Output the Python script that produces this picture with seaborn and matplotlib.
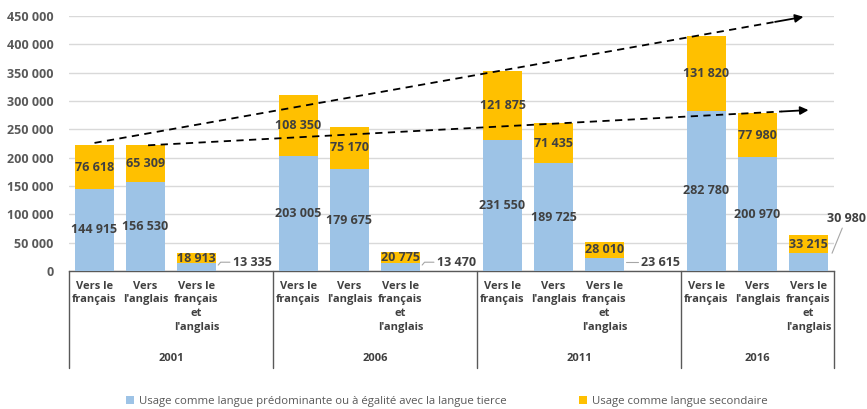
import seaborn as sns
import matplotlib.pyplot as plt
import matplotlib.transforms as mtransforms
import pandas as pd

years = ["2001", "2006", "2011", "2016"]
categories = ["Vers le\nfrançais", "Vers\nl'anglais", "Vers le\nfrançais\net\nl'anglais"]
predominant = [144915, 156530, 13335, 203005, 179675, 13470,
               231550, 189725, 23615, 282780, 200970, 30980]
secondary = [76618, 65309, 18913, 108350, 75170, 20775,
             121875, 71435, 28010, 131820, 77980, 33215]
legend_labels = ["Usage comme langue prédominante ou à égalité avec la langue tierce",
                 "Usage comme langue secondaire"]
y_ticks = list(range(0, 450001, 50000))

blue = "#9DC3E6"
orange = "#FFC000"
txt = "#404040"
grey = "#595959"

sns.set_style("white")
plt.rcParams['font.family'] = ['Open Sans', 'DejaVu Sans']

# one empty slot between year groups
rows = []
for g, yr in enumerate(years):
    for b, cat in enumerate(categories):
        k = g * 3 + b
        rows.append({"pos": g * 4 + b, "year": yr, "cat": cat,
                     "pred": predominant[k], "sec": secondary[k],
                     "total": predominant[k] + secondary[k]})
df = pd.DataFrame(rows)

fig = plt.figure(figsize=(8.67, 4.09), dpi=100)
ax = fig.add_axes([69 / 867, 1 - 271 / 409, 765 / 867, 255 / 409])

sns.barplot(data=df, x="pos", y="total", native_scale=True, width=0.78,
            color=orange, saturation=1, ax=ax, label=legend_labels[1], zorder=2,
            linewidth=0)
sns.barplot(data=df, x="pos", y="pred", native_scale=True, width=0.78,
            color=blue, saturation=1, ax=ax, label=legend_labels[0], zorder=3,
            linewidth=0)

fs = 9
ax.set_xlim(-0.5, 14.5)
ax.set_ylim(0, 450000)
ax.set_yticks(y_ticks)
ax.set_yticklabels([f"{v:,}".replace(",", " ") for v in y_ticks],
                   fontsize=fs, fontweight="bold", color=grey)
ax.tick_params(axis="y", length=0, pad=11)
ax.set_xticks([])
ax.set_xlabel("")
ax.set_ylabel("")
ax.yaxis.grid(True, color="#D9D9D9", lw=1, zorder=0)
ax.set_axisbelow(True)
for s in ["top", "right", "left"]:
    ax.spines[s].set_visible(False)
ax.spines["bottom"].set_color(grey)
ax.spines["bottom"].set_linewidth(1)

# value labels
for _, r in df.iterrows():
    x = r["pos"]
    ax.text(x, r["pred"] + r["sec"] / 2, f"{r['sec']:,}".replace(",", " "),
            ha="center", va="center", fontsize=fs, fontweight="bold", color=txt, zorder=5)
    lab = f"{r['pred']:,}".replace(",", " ")
    if r["cat"] == categories[2]:
        if r["year"] == years[-1]:
            ax.annotate(lab, xy=(x + 0.39, r["pred"] * 0.5), xytext=(x + 0.74, 93000),
                        ha="center", va="center", fontsize=fs, fontweight="bold", color=txt,
                        arrowprops=dict(arrowstyle="-", color="#A6A6A6", lw=0.8,
                                        shrinkA=0, shrinkB=7),
                        annotation_clip=False, zorder=5)
        else:
            ax.annotate(lab, xy=(x + 0.39, r["pred"] * 0.5), xytext=(x + 0.72, 15500),
                        ha="left", va="center", fontsize=fs, fontweight="bold", color=txt,
                        arrowprops=dict(arrowstyle="-", color="#A6A6A6", lw=0.8,
                                        shrinkA=0, shrinkB=2,
                                        connectionstyle="angle,angleA=0,angleB=50,rad=0"),
                        zorder=5)
    else:
        ax.text(x, r["pred"] / 2, lab, ha="center", va="center",
                fontsize=fs, fontweight="bold", color=txt, zorder=5)

# dashed trend arrows
tot = df["total"].tolist()
arrows = [((0, tot[0] + 4500), (13.9, 448500)),
          ((1.05, tot[1]), (14.0, 284000))]
for (x0, y0), (x1, y1) in arrows:
    fx = 0.96
    xm, ym = x0 + (x1 - x0) * fx, y0 + (y1 - y0) * fx
    ax.plot([x0, xm], [y0, ym], color="black", lw=1.3, ls=(0, (4, 3)),
            zorder=6, clip_on=False)
    ax.annotate("", xy=(x1, y1), xytext=(xm, ym),
                arrowprops=dict(arrowstyle="-|>", color="black", lw=1.3,
                                mutation_scale=12, shrinkA=0, shrinkB=0),
                annotation_clip=False, zorder=6)

# multi-level category axis
trans = mtransforms.blended_transform_factory(ax.transData, ax.transAxes)
for _, r in df.iterrows():
    ax.text(r["pos"], -0.038, r["cat"], transform=trans, ha="center", va="top",
            fontsize=8, fontweight="bold", color=txt, linespacing=1.33, multialignment="center")
for g, yr in enumerate(years):
    lo = g * 4 - 0.5
    hi = min(g * 4 + 3.5, 14.5)
    ax.text((lo + hi) / 2, -0.345, yr, transform=trans, ha="center", va="center",
            fontsize=8, fontweight="bold", color=txt)
for xv in [-0.5, 3.5, 7.5, 11.5, 14.5]:
    ax.plot([xv, xv], [0, -0.38], transform=trans, color=grey, lw=1, clip_on=False)

handles, labels = ax.get_legend_handles_labels()
order = [labels.index(legend_labels[0]), labels.index(legend_labels[1])]
leg = ax.legend([handles[i] for i in order], [labels[i] for i in order],
                loc="center", bbox_to_anchor=(0.494, -0.51), ncol=2, frameon=False,
                fontsize=8.2, handlelength=0.7, handleheight=0.7, handletextpad=0.4,
                columnspacing=6.4, labelcolor=grey)

fig.savefig("out.png", dpi=100)
